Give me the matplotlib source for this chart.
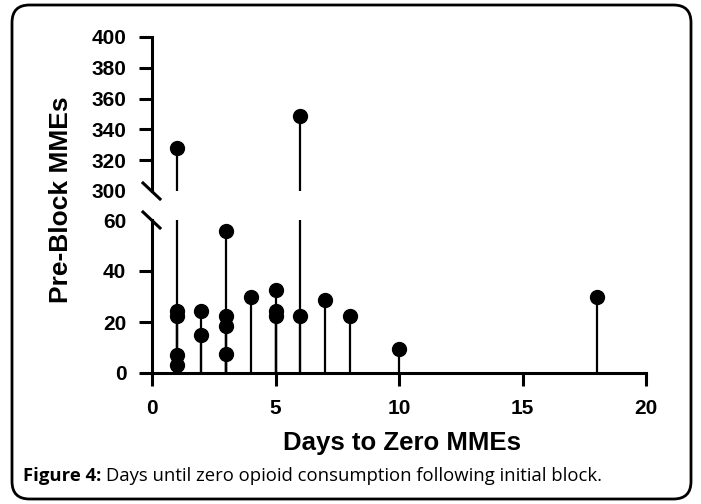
import numpy as np
import matplotlib.pyplot as plt
from matplotlib.patches import FancyBboxPatch
from matplotlib.lines import Line2D

# data: days to zero MMEs vs pre-block MMEs
days = [1, 1, 1, 1, 1, 2, 2, 3, 3, 3, 3, 4, 5, 5, 5, 6, 6, 7, 8, 10, 18]
mmes = [328, 24.5, 22.5, 7, 3, 24.5, 15, 55.5, 22.5, 18.5, 7.3, 30,
        32.5, 24.5, 22.5, 349, 22.5, 28.5, 22.5, 9.3, 30]

x_ticks = [0, 5, 10, 15, 20]
low_ticks = [0, 20, 40, 60]
high_ticks = [300, 320, 340, 360, 380, 400]

plt.rcParams['font.family'] = ['Liberation Sans', 'DejaVu Sans']

W, H = 701, 504
fig = plt.figure(figsize=(W / 100, H / 100), dpi=100)

def px_axes(x0, x1, ytop, ybot):
    return fig.add_axes([x0 / W, 1 - ybot / H, (x1 - x0) / W, (ybot - ytop) / H])

ax_lo = px_axes(152, 646, 220, 373)
ax_hi = px_axes(152, 646, 37, 191)

days_a = np.array(days)
mmes_a = np.array(mmes)

for ax, lo, hi in [(ax_lo, 0, 60), (ax_hi, 300, 400)]:
    ax.vlines(days_a, lo, np.minimum(mmes_a, hi), color='black', lw=1.6)
    sel = (mmes_a >= lo) & (mmes_a <= hi)
    ax.plot(days_a[sel], mmes_a[sel], 'o', color='black', ms=10, clip_on=False,
            zorder=3)
    ax.set_xlim(0, 20)
    ax.set_ylim(lo, hi)
    ax.patch.set_visible(False)
    for s in ['top', 'right']:
        ax.spines[s].set_visible(False)
    ax.spines['left'].set_linewidth(2.2)
    ax.tick_params(axis='y', direction='out', length=9.5, width=2.2, pad=9,
                   labelsize=15)

ax_lo.set_yticks(low_ticks)
ax_lo.set_yticklabels([str(t) for t in low_ticks], fontweight='bold')
ax_lo.set_xticks(x_ticks)
ax_lo.set_xticklabels([str(t) for t in x_ticks], fontweight='bold')
ax_lo.spines['bottom'].set_linewidth(2.2)
ax_lo.tick_params(axis='x', direction='out', length=9, width=2.2, pad=10,
                  labelsize=15)
# the 60 tick mark is replaced by the break mark
ax_lo.yaxis.get_major_ticks()[-1].tick1line.set_visible(False)

ax_hi.set_yticks(high_ticks)
ax_hi.set_yticklabels([str(t) for t in high_ticks], fontweight='bold')
ax_hi.yaxis.get_major_ticks()[0].tick1line.set_visible(False)
ax_hi.spines['bottom'].set_visible(False)
ax_hi.set_xticks([])

# break marks on the y axis
for y0 in [183, 212]:
    fig.add_artist(Line2D([143 / W, 160 / W], [1 - y0 / H, 1 - (y0 + 16) / H],
                          color='black', lw=2.2))

fig.text(61 / W, 1 - 200 / H, 'Pre-Block MMEs', rotation=90, ha='center',
         va='center', fontsize=19, fontweight='bold')
fig.text(402 / W, 1 - 443 / H, 'Days to Zero MMEs', ha='center', va='center',
         fontsize=18.5, fontweight='bold')

cap_font = ['Open Sans', 'DejaVu Sans']
t1 = fig.text(23 / W, 1 - 476 / H, 'Figure 4:', ha='left', va='center',
              fontsize=13.3, fontweight='bold', family=cap_font)
fig.canvas.draw()
bb = t1.get_window_extent()
fig.text((bb.x1 + 5) / W, 1 - 476 / H,
         'Days until zero opioid consumption following initial block.',
         ha='left', va='center', fontsize=13.3, family=cap_font)

# rounded frame around the whole figure
frame = FancyBboxPatch((12 / W, 5 / H), (691 - 12) / W, (499 - 5) / H,
                       boxstyle='round,pad=0,rounding_size=0.025',
                       transform=fig.transFigure, fill=False, ec='black',
                       lw=2, mutation_aspect=W / H)
fig.add_artist(frame)

fig.savefig('out.png', dpi=100)
